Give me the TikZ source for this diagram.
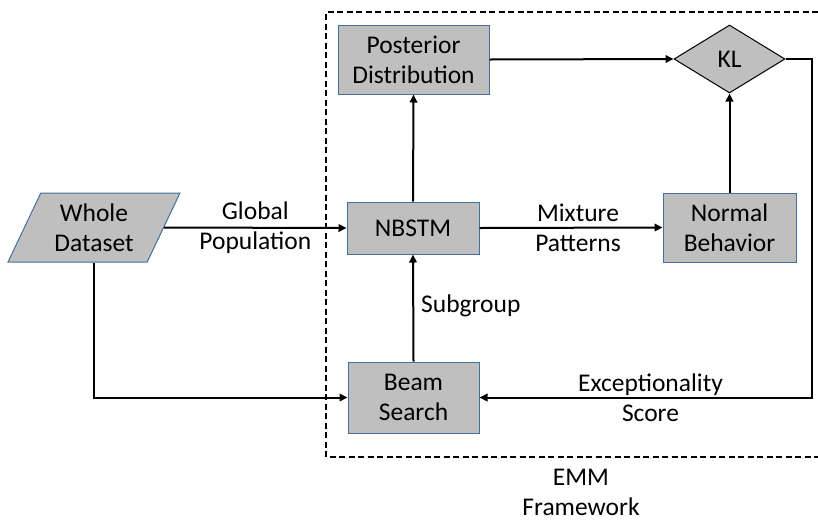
\documentclass[tikz,border=0pt]{standalone}
\usepackage{fontspec}
\setmainfont{Carlito}
\usetikzlibrary{shapes.geometric,arrows.meta}
\definecolor{boxfill}{HTML}{BFBFBF}
\definecolor{boxline}{HTML}{41719C}
\tikzset{
  base/.style={fill=boxfill, draw=boxline, line width=1pt, align=center, inner sep=0pt,
    font=\fontsize{25.5}{30}\selectfont},
  procbox/.style={base, rectangle},
  datashape/.style={base, trapezium, trapezium left angle=63, trapezium right angle=117,
    trapezium stretches=true},
  decide/.style={base, diamond, draw=black},
  conn/.style={line width=2pt, -{Triangle[length=8pt,width=7.5pt]}},
  lab/.style={align=center, font=\fontsize{25.5}{30}\selectfont, inner sep=0pt},
  frame/.style={line width=1.2pt, dash pattern=on 6pt off 3.5pt}
}
\begin{document}
\begin{tikzpicture}[x=1pt,y=-1pt]
\useasboundingbox (0,0) rectangle (818,523);
% frame
\coordinate (ftr) at (818,12);
\coordinate (ftl) at (326,12);
\coordinate (fbl) at (326,457);
\coordinate (fbr) at (818,457);
\draw[frame] (ftr) -- (ftl) -- (fbl) -- (fbr);
% nodes
\node[datashape, minimum width=172pt, minimum height=69pt] (whole) at (94,227.5) {Whole\\Dataset};
\node[procbox, minimum width=151pt, minimum height=69pt] (post) at (413.5,59.5) {Posterior\\Distribution};
\node[decide, minimum width=111pt, minimum height=68pt] (kl) at (729.5,59) {KL};
\node[procbox, minimum width=132pt, minimum height=52pt] (nbstm) at (413,228) {NBSTM};
\node[procbox, minimum width=133pt, minimum height=69pt] (normal) at (729.5,227.5) {Normal\\Behavior};
\node[procbox, minimum width=131pt, minimum height=71pt] (beam) at (413.5,397.5) {Beam\\Search};
\node[lab] (emm) at (581,492.5) {EMM\\Framework};
% connectors
\draw[conn] (whole.east) -- node[lab] {Global\\Population} (nbstm.west);
\draw[conn] (whole.south) |- (beam.west);
\draw[conn] (beam.north) -- node[lab, right=7pt, pos=0.52] {Subgroup} (nbstm.south);
\draw[conn] (nbstm.north) -- (post.south);
\draw[conn] (nbstm.east) -- node[lab, xshift=7pt] {Mixture\\Patterns} (normal.west);
\draw[conn] (post.east) -- (kl.west);
\draw[conn] (normal.north) -- (kl.south);
\coordinate (kr) at (812,59);
\coordinate (kb) at (812,397.5);
\coordinate (excl) at (650.5,398);
\draw[conn] (kl.east) -- (kr) -- (kb) -- (beam.east);
\node[lab] (exc) at (excl) {Exceptionality\\Score};
\end{tikzpicture}
\end{document}
